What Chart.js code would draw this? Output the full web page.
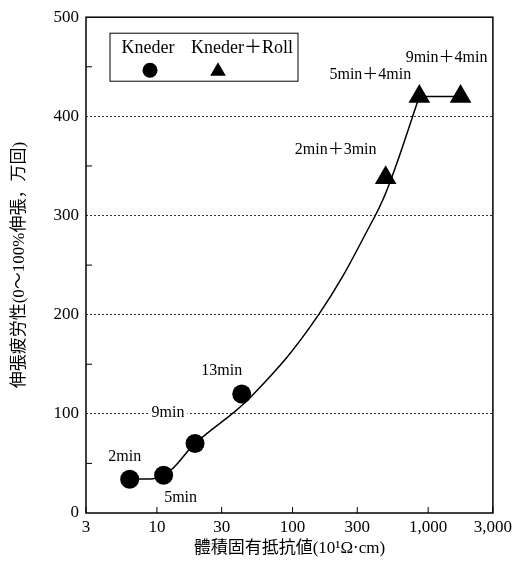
<!DOCTYPE html>
<html>
<head>
<meta charset="utf-8">
<script src="https://cdn.jsdelivr.net/npm/chart.js@4.4.0/dist/chart.umd.min.js"></script>
<style>
  html, body { margin: 0; padding: 0; background: #fff; }
  #wrap { width: 516px; height: 566px; }
</style>
</head>
<body>
<div id="wrap"><canvas id="fatigueChart" width="516" height="566"></canvas></div>
<script>
// Kneder only
const kneaderX = [6.3, 11.2, 19.1, 42.2];
const kneaderY = [34, 38, 70, 120];
const kneaderNotes = ['2min', '5min', '9min', '13min'];

// Kneder + Roll
const rollX = [486, 861, 1733];
const rollY = [338, 420, 420];
const rollNotes = ['2min＋3min', '5min＋4min', '9min＋4min'];

// hand drawn trend curve
const curveX = [6.3, 11.2, 19.1, 50, 154, 404, 528, 861];
const curveY = [34, 38, 70, 118, 199, 299, 335, 420];

const xTicks = [3, 10, 30, 100, 300, 1000, 3000];
const xTickLabels = ['3', '10', '30', '100', '300', '1,000', '3,000'];
const yMinorTicks = [50, 150, 250, 350, 450];

const serif = '"Liberation Serif", "Noto Sans CJK JP", serif';

const toPoints = (xs, ys) => xs.map((v, i) => ({ x: v, y: ys[i] }));

const decorPlugin = {
    id: 'decor',
    afterDatasetsDraw(chart) {
        const { ctx, chartArea: a, scales: { x, y } } = chart;
        ctx.save();
        ctx.strokeStyle = '#000';
        ctx.fillStyle = '#000';

        // inward tick marks
        ctx.lineWidth = 1;
        ctx.beginPath();
        xTicks.forEach(v => {
            const px = x.getPixelForValue(v);
            ctx.moveTo(px, a.bottom);
            ctx.lineTo(px, a.bottom - 6);
        });
        yMinorTicks.forEach(v => {
            const py = y.getPixelForValue(v);
            ctx.moveTo(a.left, py);
            ctx.lineTo(a.left + 6, py);
        });
        ctx.stroke();

        // frame
        ctx.lineWidth = 1.5;
        ctx.strokeRect(a.left, a.top, a.right - a.left, a.bottom - a.top);

        // point notes
        ctx.font = '16px ' + serif;
        ctx.textAlign = 'center';
        ctx.textBaseline = 'middle';
        const noteOffsets = [
            [[-5, -22], [17, 22], [-27, -31], [-20, -23]],
            [[-50, -28], [-49, -22], [-14, -39]]
        ];
        [kneaderNotes, rollNotes].forEach((notes, d) => {
            const meta = chart.getDatasetMeta(d);
            notes.forEach((txt, i) => {
                const el = meta.data[i];
                const tx = el.x + noteOffsets[d][i][0];
                const ty = el.y + noteOffsets[d][i][1];
                const w = ctx.measureText(txt).width;
                ctx.fillStyle = '#fff';
                ctx.fillRect(tx - w / 2 - 3, ty - 8, w + 6, 16);
                ctx.fillStyle = '#000';
                ctx.fillText(txt, tx, ty);
            });
        });

        // legend box
        const bx = a.left + 24, by = a.top + 16, bw = 188, bh = 48;
        ctx.lineWidth = 1;
        ctx.strokeRect(bx, by, bw, bh);
        ctx.font = '18px ' + serif;
        ctx.fillText(chart.data.datasets[0].label, bx + 38, by + 15);
        ctx.fillText(chart.data.datasets[1].label, bx + 132, by + 15);
        ctx.beginPath();
        ctx.arc(bx + 40, by + 37, 7.5, 0, Math.PI * 2);
        ctx.fill();
        const tx = bx + 108, ty = by + 38, r = 9;
        ctx.beginPath();
        ctx.moveTo(tx, ty - r);
        ctx.lineTo(tx + r * 0.866, ty + r / 2);
        ctx.lineTo(tx - r * 0.866, ty + r / 2);
        ctx.closePath();
        ctx.fill();

        ctx.restore();
    }
};

const ctx = document.getElementById('fatigueChart').getContext('2d');
new Chart(ctx, {
    type: 'scatter',
    data: {
        datasets: [
            {
                label: 'Kneder',
                data: toPoints(kneaderX, kneaderY),
                pointStyle: 'circle',
                pointRadius: 9.5,
                backgroundColor: '#000',
                borderWidth: 0
            },
            {
                label: 'Kneder＋Roll',
                data: toPoints(rollX, rollY),
                pointStyle: 'triangle',
                pointRadius: 12.5,
                backgroundColor: '#000',
                borderWidth: 0
            },
            {
                label: 'curve',
                data: toPoints(curveX, curveY),
                showLine: true,
                pointRadius: 0,
                borderColor: '#000',
                borderWidth: 1.5,
                tension: 0.4
            },
            {
                label: 'plateau',
                data: toPoints(rollX.slice(1), rollY.slice(1)),
                showLine: true,
                pointRadius: 0,
                borderColor: '#000',
                borderWidth: 1.5
            }
        ]
    },
    options: {
        responsive: false,
        animation: false,
        layout: { padding: { top: 16, right: 20, left: 0, bottom: 0 } },
        plugins: {
            legend: { display: false },
            tooltip: { enabled: false }
        },
        scales: {
            x: {
                type: 'logarithmic',
                min: 3,
                max: 3000,
                afterBuildTicks: s => { s.ticks = xTicks.map(v => ({ value: v })); },
                afterFit: s => { s.height = 53; },
                grid: { display: false, drawTicks: false },
                border: { display: false },
                ticks: {
                    autoSkip: false,
                    maxRotation: 0,
                    padding: 4,
                    color: '#000',
                    font: { family: serif, size: 17 },
                    callback: (v, i) => xTickLabels[i]
                },
                title: {
                    display: true,
                    text: '體積固有抵抗値(10¹Ω·cm)',
                    color: '#000',
                    font: { family: serif, size: 17 },
                    padding: { top: 0, bottom: 7 }
                }
            },
            y: {
                min: 0,
                max: 500,
                afterFit: s => { s.width = 86; },
                grid: {
                    drawTicks: false,
                    lineWidth: 1,
                    color: c => (c.tick && (c.tick.value === 0 || c.tick.value === 500)) ? 'rgba(0,0,0,0)' : '#333'
                },
                border: { display: false, dash: [2, 2] },
                ticks: {
                    stepSize: 100,
                    padding: 7,
                    color: '#000',
                    font: { family: serif, size: 17 }
                },
                title: {
                    display: true,
                    text: '伸張疲労性(0～100%伸張，万回)',
                    color: '#000',
                    font: { family: serif, size: 17 },
                    padding: { top: 9, bottom: 0 }
                }
            }
        }
    },
    plugins: [decorPlugin]
});
</script>
</body>
</html>
